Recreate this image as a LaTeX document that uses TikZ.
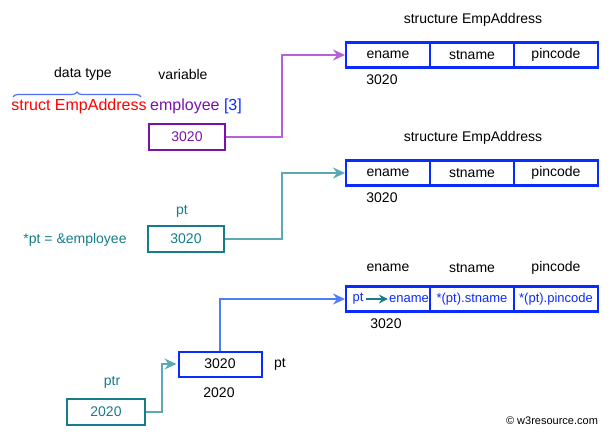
\documentclass[tikz,border=0pt]{standalone}
\usepackage{fontspec}
\setmainfont{Liberation Sans}
\usetikzlibrary{positioning,arrows.meta,decorations.pathreplacing}
\definecolor{boxblue}{HTML}{0A2BFF}
\definecolor{linkblue}{HTML}{4F7FF5}
\definecolor{varpurple}{HTML}{7A12A8}
\definecolor{linkpurple}{HTML}{B661D8}
\definecolor{ptteal}{HTML}{167C8B}
\definecolor{linkteal}{HTML}{5AA9B5}
\definecolor{bracecol}{HTML}{4C6FF0}
\newcommand{\fsz}[1]{\fontsize{#1}{#1}\selectfont}

\begin{document}
\begin{tikzpicture}[x=1pt,y=-1pt,>={Stealth[length=12pt,width=11pt,inset=4pt]},node distance=0pt,font=\fsz{14}]
\tikzstyle{cell}=[draw=boxblue,line width=2.4pt,minimum width=84pt,minimum height=25pt,outer sep=0pt,inner sep=0pt]
\tikzstyle{var}=[draw,line width=2pt,minimum width=76pt,minimum height=26pt,inner sep=0pt]
\tikzstyle{link}=[->,line width=2pt,shorten >=1pt]
\useasboundingbox (0,0) rectangle (611,437);

% first structure
\node (T1) at (473,20) {structure EmpAddress};
\node[cell] (A1) at (388,55) {ename};
\node[cell] (A2) [right=of A1] {stname};
\node[cell] (A3) [right=of A2] {pincode};
\node (a) at (382,80) {3020};

\node (dt) at (83,74) {data type};
\node (vr) at (183,74) {variable};
\node[text=red,font=\fsz{16}] (se) at (79,106) {struct EmpAddress};
\node[font=\fsz{16}] (em) at (196,106) {\textcolor{varpurple}{employee} \textcolor{boxblue}{[3]}};
\draw[bracecol,line width=1.2pt,decorate,decoration={brace,amplitude=5pt}] (13,97) -- (141,97);
\node[var,draw=varpurple,text=varpurple] (P) at (187,137) {3020};
\draw[link,linkpurple] (P.east) -- ++(56,0) |- (A1.west);

% second structure
\node (T2) at (473,138) {structure EmpAddress};
\node[cell] (B1) at (388,173) {ename};
\node[cell] (B2) [right=of B1] {stname};
\node[cell] (B3) [right=of B2] {pincode};
\node (b) at (382,198) {3020};

\node[text=ptteal] (pt) at (182,211) {pt};
\node[text=ptteal] (as) at (75,240) {*pt = \&employee};
\node[var,draw=ptteal,text=ptteal] (S) at (186,239) {3020};
\draw[link,linkteal] (S.east) -- ++(57,0) |- (B1.west);

% third structure
\node (l1) at (388,268) {ename};
\node (l2) at (472,268) {stname};
\node (l3) at (556,268) {pincode};
\node[cell] (C1) at (388,299) {};
\node[cell,text=boxblue,font=\fsz{13}] (C2) [right=of C1] {*(pt).stname};
\node[cell,text=boxblue,font=\fsz{13}] (C3) [right=of C2] {*(pt).pincode};
\node[text=boxblue,font=\fsz{13},inner sep=0pt] (cp) at (358,299) {pt};
\node[text=boxblue,font=\fsz{13},inner sep=0pt] (ce) at (409,299) {ename};
\draw[->,ptteal,line width=1.8pt,>={Stealth[length=9pt,width=9pt,inset=3pt]}] (cp.east) ++(2,0) -- ([xshift=-1pt]ce.west);
\node (c) at (386,324) {3020};

\node[var,draw=boxblue,minimum width=83pt,minimum height=25pt] (Q) at (220,364) {3020};
\node (qn) at (280,364) {pt};
\node (qa) at (219,393) {2020};
\draw[link,linkblue] (Q.north) |- (C1.west);

\node[text=ptteal] (pn) at (112,382) {ptr};
\node[var,draw=ptteal,text=ptteal,minimum width=78pt] (R) at (106,412) {2020};
\draw[link,linkteal] (R.east) -- ++(16,0) |- (Q.west);

\node[font=\fsz{11}] (cr) at (552,421) {\textcopyright\ w3resource.com};
\end{tikzpicture}
\end{document}
